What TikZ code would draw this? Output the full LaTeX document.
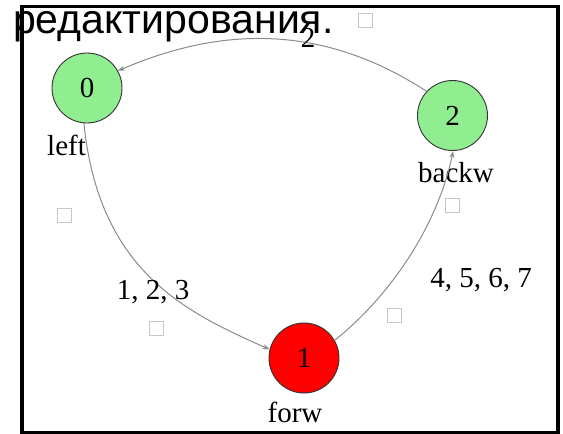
\documentclass[tikz,border=0pt]{standalone}
\usepackage{fontspec}
\setmainfont{Liberation Serif}
\newfontfamily\rufont{Liberation Sans}
\usetikzlibrary{arrows.meta}
\definecolor{nodegreen}{RGB}{144,238,144}
\definecolor{nodered}{RGB}{255,0,0}
\begin{document}
\begin{tikzpicture}[x=1pt,y=-1pt,
  state/.style={circle,draw=black!80,line width=0.9pt,minimum size=70pt,inner sep=0pt,font=\fontsize{29}{29}\selectfont},
  lbl/.style={inner sep=0pt,font=\fontsize{29}{29}\selectfont},
  edge/.style={draw=black!45,line width=1pt,-{Stealth[length=7pt,width=5pt]}},
  sq/.style={draw=black!22,line width=1pt,minimum size=14pt,inner sep=0pt}]
\useasboundingbox (0,0) rectangle (563,434);
\fill[white] (0,0) rectangle (563,434);
\draw[line width=3.5pt] (22,6.5) rectangle (558,432.3);
% faint squares
\node[sq] (sq0) at (365,20) {};
\node[sq] (sq1) at (64.5,215) {};
\node[sq] (sq2) at (156.5,328.5) {};
\node[sq] (sq3) at (452.5,205) {};
\node[sq] (sq4) at (394.5,315.5) {};
% title text
\node[anchor=base west,inner sep=0pt,font=\rufont\fontsize{41}{41}\selectfont] (title) at (13,33) {редактирования.};
% states
\node[state,fill=nodegreen] (n0) at (87,88) {0};
\node[state,fill=nodegreen] (n2) at (452.5,115.5) {2};
\node[state,fill=nodered] (n1) at (304,358) {1};
% state labels
\node[lbl,anchor=base west] (l0) at (47,155) {left};
\node[lbl,anchor=base] (l2) at (456,182) {backw};
\node[lbl,anchor=base] (l1) at (295,422) {forw};
% edges
\draw[edge] (n2.137) .. controls (323,24) and (222,26) .. (n0.29);
\draw[edge] (n0.265) .. controls (99,273) and (188,313) .. (n1.166);
\draw[edge] (n1.30) .. controls (395,292) and (439,220) .. (n2.271);
% edge labels
\node[lbl,anchor=base] (e20) at (308,47) {2};
\node[lbl,anchor=base] (e01) at (153,299) {1, 2, 3};
\node[lbl,anchor=base] (e12) at (481,287) {4, 5, 6, 7};
\end{tikzpicture}
\end{document}
